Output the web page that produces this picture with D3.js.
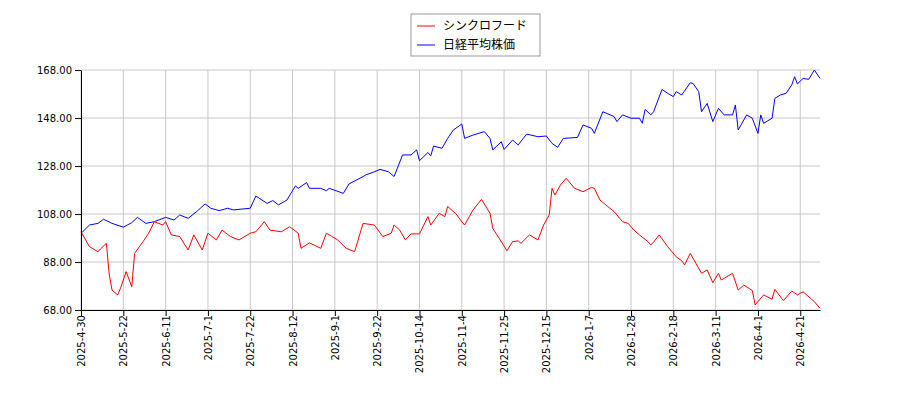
<!DOCTYPE html>
<html><head><meta charset="utf-8">
<script src="https://cdn.jsdelivr.net/npm/d3@7"></script>
<style>body{margin:0;background:#fff}text{font-family:"DejaVu Sans",sans-serif}</style>
</head><body><div></div>
<script>
// trading-day index of each sampled point, and its value
const redIdx = [0,3,6,9,10,11,13,14,16,18,19,22,24,26,29,30,32,35,38,40,43,45,48,50,53,56,60,62,65,67,71,74,77,78,81,85,87,91,94,97,100,104,107,110,111,113,115,117,120,123,124,127,129,130,133,135,136,139,142,145,146,149,151,153,155,156,159,162,164,166,167,168,170,172,175,178,181,182,184,189,192,194,196,198,201,202,203,205,208,211,213,214,216,220,222,224,226,227,231,233,235,238,239,242,245,246,249,252,254,256,259,260,262];
const redVal = [100.6,94.4,92.3,95.8,83,76.3,74.3,77,84,77.7,91.6,96.5,100,104.8,103.4,104.8,99.3,98.6,93,99.3,93,100,97.2,101.3,98.6,97.2,100,100.6,104.8,101.3,100.6,102.7,100,93.7,96,93.7,100,97.2,93.7,92.3,104.1,103.4,98.6,100,103.4,101.3,97.2,99.7,99.7,106.9,103.4,108.3,106.9,111.1,108,104.8,103.4,109.7,114.1,108.3,102,96.5,92.7,96.5,96.8,95.8,99.3,97.2,103.4,107.6,118.7,115.9,120.1,122.9,118.7,117.3,119.1,118.7,113.8,109,104.8,104.1,101.3,99.3,96.5,95.1,96.3,99.3,94.4,90.2,88.5,86.8,91.6,83.3,84.7,79.4,83.3,80.5,83.3,76.3,78.4,76.1,70.1,74.3,72.5,76.6,71.9,75.9,74.3,75.6,72.5,71.5,68.7];
const blueIdx = [0,3,6,8,11,15,18,20,23,26,30,33,35,38,41,44,46,49,52,54,60,62,66,68,70,73,76,77,80,81,85,87,88,93,95,100,101,104,106,109,111,114,117,119,120,123,124,125,128,130,132,135,136,139,143,145,146,149,150,153,155,158,162,165,167,169,171,176,178,181,182,185,189,190,192,195,198,199,200,202,203,206,208,210,211,213,216,217,219,220,222,224,226,228,231,232,233,236,238,240,241,242,245,246,248,250,252,253,254,256,258,260,262];
const blueVal = [99.9,103.4,104.1,105.8,104.1,102.5,104.4,106.6,104.1,104.8,106.6,105.5,107.6,106.2,109,112.2,110.4,109.4,110.4,109.7,110.4,115.5,112.4,113.6,111.8,113.8,119.7,118.7,121.1,118.7,118.7,117.7,118.7,116.6,120.5,123.6,124.3,125.6,126.6,125.6,123.6,132.6,132.6,134.7,130.2,133.6,132.2,136.3,135.4,139.5,143,145.5,139.5,140.9,142.3,139.5,134.7,138.1,134.9,138.8,136.8,141.3,140.2,140.5,137.4,135.8,139.5,139.9,145.1,143.7,141.6,150.6,148.6,146.5,149.3,147.9,147.9,145.8,151.6,149.3,150.6,159.9,158.3,156.9,159,157.6,162.7,162.4,159,150.6,154.1,146.5,152,149.3,149.3,153.4,143,149.3,147.9,141.6,149.3,145.8,147.9,156.2,157.6,158.3,161.8,165.2,162.2,164.5,164.1,168,164.5];
const tickIdx = [0,15,30,45,60,75,90,105,120,135,150,165,180,195,210,225,240,255];
const tickLabels = ["2025-4-30","2025-5-22","2025-6-11","2025-7-1","2025-7-22","2025-8-12","2025-9-1","2025-9-22","2025-10-14","2025-11-4","2025-11-25","2025-12-15","2026-1-7","2026-1-28","2026-2-18","2026-3-11","2026-4-1","2026-4-21"];
const yTicks = [68,88,108,128,148,168];
const names = ["シンクロフード","日経平均株価"];

const svg = d3.select('div').append('svg').attr('width',900).attr('height',400);
const x = d3.scaleLinear().domain([0,262]).range([81,820]);
const y = d3.scaleLinear().domain([68,168]).range([310,70]);

// grid
svg.append('g').selectAll('line').data(tickIdx).enter().append('line')
  .attr('x1',d=>x(d)).attr('x2',d=>x(d)).attr('y1',70).attr('y2',310).attr('stroke','#c8c8c8');
svg.append('g').selectAll('line').data(yTicks).enter().append('line')
  .attr('x1',81).attr('x2',820).attr('y1',d=>y(d)).attr('y2',d=>y(d)).attr('stroke','#c8c8c8');

const line = d3.line().x(d=>x(d[0])).y(d=>y(d[1]));
svg.append('path').datum(blueIdx.map((d,i)=>[d,blueVal[i]])).attr('d',line).attr('fill','none').attr('stroke','#0000ff').attr('stroke-width',1);
svg.append('path').datum(redIdx.map((d,i)=>[d,redVal[i]])).attr('d',line).attr('fill','none').attr('stroke','#ff0000').attr('stroke-width',1);

const xAxis = d3.axisBottom(x).tickValues(tickIdx).tickFormat((d,i)=>tickLabels[i]).tickSizeOuter(0);
svg.append('g').attr('transform','translate(0,310)').call(xAxis)
  .call(g=>g.selectAll('text').attr('transform','rotate(-90)').attr('text-anchor','end').attr('dx','0').attr('dy','0.35em').attr('x',-5).attr('y',0).style('font-size','10px'));
const yAxis = d3.axisLeft(y).tickValues(yTicks).tickFormat(d3.format('.2f')).tickSizeOuter(0);
svg.append('g').attr('transform','translate(81,0)').call(yAxis)
  .call(g=>g.selectAll('text').style('font-size','10px'));

// legend
const lg = svg.append('g').attr('transform','translate(411,14)');
lg.append('rect').attr('width',129).attr('height',42).attr('fill','#fff').attr('stroke','#999');
[['#ff0000',names[0]],['#0000ff',names[1]]].forEach(([c,t],i)=>{
  lg.append('line').attr('x1',6).attr('x2',24).attr('y1',12+i*19).attr('y2',12+i*19).attr('stroke',c);
  lg.append('text').attr('x',32).attr('y',16+i*19).text(t).style('font-size','12px').style('font-family','"Noto Sans CJK JP"');
});
</script></body></html>
